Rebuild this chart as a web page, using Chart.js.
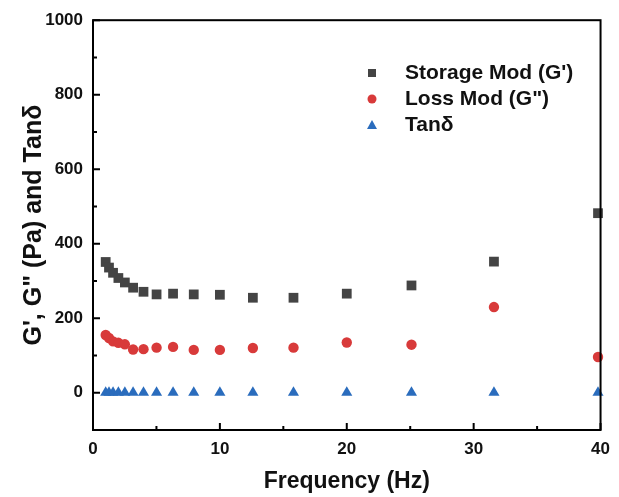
<!DOCTYPE html>
<html>
<head>
<meta charset="utf-8">
<script src="https://cdn.jsdelivr.net/npm/chart.js@4"></script>
<style>
html,body{margin:0;padding:0;background:#fff;}
#wrap{width:619px;height:497px;}
</style>
</head>
<body>
<div id="wrap"><canvas id="c" width="619" height="497"></canvas></div>
<script>
const frequency = [1, 1.26, 1.58, 2, 2.51, 3.16, 3.98, 5.01, 6.31, 7.94, 10, 12.6, 15.8, 20, 25.1, 31.6, 39.8];
const storageMod = [351, 336, 322, 308, 296, 282, 271, 264, 266, 264, 263, 255, 255, 266, 288, 352, 482];
const lossMod = [155, 147, 138, 134, 130, 116, 117, 121, 123, 115, 115, 120, 121, 135, 129, 230, 96];
const tanDelta = [0.4, 0.4, 0.4, 0.4, 0.4, 0.4, 0.4, 0.4, 0.4, 0.4, 0.4, 0.4, 0.4, 0.4, 0.4, 0.4, 0.4];
const seriesNames = ["Storage Mod (G')", 'Loss Mod (G")', "Tanδ"];
const xTicks = [0, 10, 20, 30, 40];
const xMinorTicks = [5, 15, 25, 35];
const yTicks = [0, 200, 400, 600, 800, 1000];
const yMinorTicks = [100, 300, 500, 700, 900];

const FONT = "'Liberation Sans', Arial, sans-serif";
const toPts = (ys) => frequency.map((f, i) => ({x: f, y: ys[i]}));

const framePlugin = {
  id: 'frame',
  afterDatasetsDraw(chart) {
    const {ctx, chartArea: a, scales: {x, y}} = chart;
    ctx.save();
    ctx.strokeStyle = '#000';
    ctx.lineWidth = 2;
    ctx.strokeRect(a.left, a.top, a.right - a.left, a.bottom - a.top);
    ctx.beginPath();
    xTicks.forEach(v => { const px = x.getPixelForValue(v); ctx.moveTo(px, a.bottom); ctx.lineTo(px, a.bottom - 7); });
    xMinorTicks.forEach(v => { const px = x.getPixelForValue(v); ctx.moveTo(px, a.bottom); ctx.lineTo(px, a.bottom - 4); });
    yTicks.forEach(v => { const py = y.getPixelForValue(v); ctx.moveTo(a.left, py); ctx.lineTo(a.left + 7, py); });
    yMinorTicks.forEach(v => { const py = y.getPixelForValue(v); ctx.moveTo(a.left, py); ctx.lineTo(a.left + 4, py); });
    ctx.stroke();
    // legend
    const rows = [73, 99, 125];
    chart.data.datasets.forEach((ds, i) => {
      ctx.fillStyle = ds.backgroundColor;
      const cx = 372, cy = rows[i];
      ctx.beginPath();
      if (ds.pointStyle === 'rect') ctx.rect(cx - 4, cy - 4, 8, 8);
      else if (ds.pointStyle === 'circle') ctx.arc(cx, cy, 4.5, 0, Math.PI * 2);
      else { ctx.moveTo(cx, cy - 5); ctx.lineTo(cx + 5, cy + 4); ctx.lineTo(cx - 5, cy + 4); ctx.closePath(); }
      ctx.fill();
      ctx.fillStyle = '#111';
      ctx.font = 'bold 21px ' + FONT;
      ctx.textBaseline = 'middle';
      ctx.textAlign = 'left';
      ctx.fillText(seriesNames[i], 405, cy);
    });
    ctx.restore();
  }
};

new Chart(document.getElementById('c'), {
  type: 'scatter',
  data: {
    datasets: [
      {label: seriesNames[0], data: toPts(storageMod), pointStyle: 'rect', pointRadius: 6.9, backgroundColor: '#444444', borderWidth: 0, clip: false},
      {label: seriesNames[1], data: toPts(lossMod), pointStyle: 'circle', pointRadius: 5.2, backgroundColor: '#d83a3a', borderWidth: 0, clip: false},
      {label: seriesNames[2], data: toPts(tanDelta), pointStyle: 'triangle', pointRadius: 6.4, backgroundColor: '#2a6cbd', borderWidth: 0, clip: false}
    ]
  },
  options: {
    responsive: false,
    animation: false,
    layout: {padding: {left: 0, right: 15, top: 18, bottom: 0}},
    plugins: {legend: {display: false}, tooltip: {enabled: false}},
    scales: {
      x: {
        type: 'linear', min: 0, max: 40,
        afterBuildTicks: (s) => { s.ticks = xTicks.map(v => ({value: v})); },
        afterFit: (s) => { s.height = 67; },
        grid: {display: false, drawTicks: false},
        border: {display: false},
        ticks: {color: '#111', padding: 9, font: {family: FONT, size: 17, weight: 'bold'}, maxRotation: 0, callback: (v) => String(v)},
        title: {display: true, text: 'Frequency (Hz)', color: '#111', font: {family: FONT, size: 23, weight: 'bold'}, padding: {top: 0, bottom: 2}}
      },
      y: {
        type: 'linear', min: -100, max: 1000,
        afterBuildTicks: (s) => { s.ticks = yTicks.map(v => ({value: v})); },
        afterFit: (s) => { s.width = 93; },
        grid: {display: false, drawTicks: false},
        border: {display: false},
        ticks: {color: '#111', padding: 10, font: {family: FONT, size: 17, weight: 'bold'}, callback: (v) => String(v)},
        title: {display: true, text: 'G\', G" (Pa) and Tanδ', color: '#111', font: {family: FONT, size: 25, weight: 'bold'}, padding: {top: 19, bottom: 0}}
      }
    }
  },
  plugins: [framePlugin]
});
</script>
</body>
</html>
